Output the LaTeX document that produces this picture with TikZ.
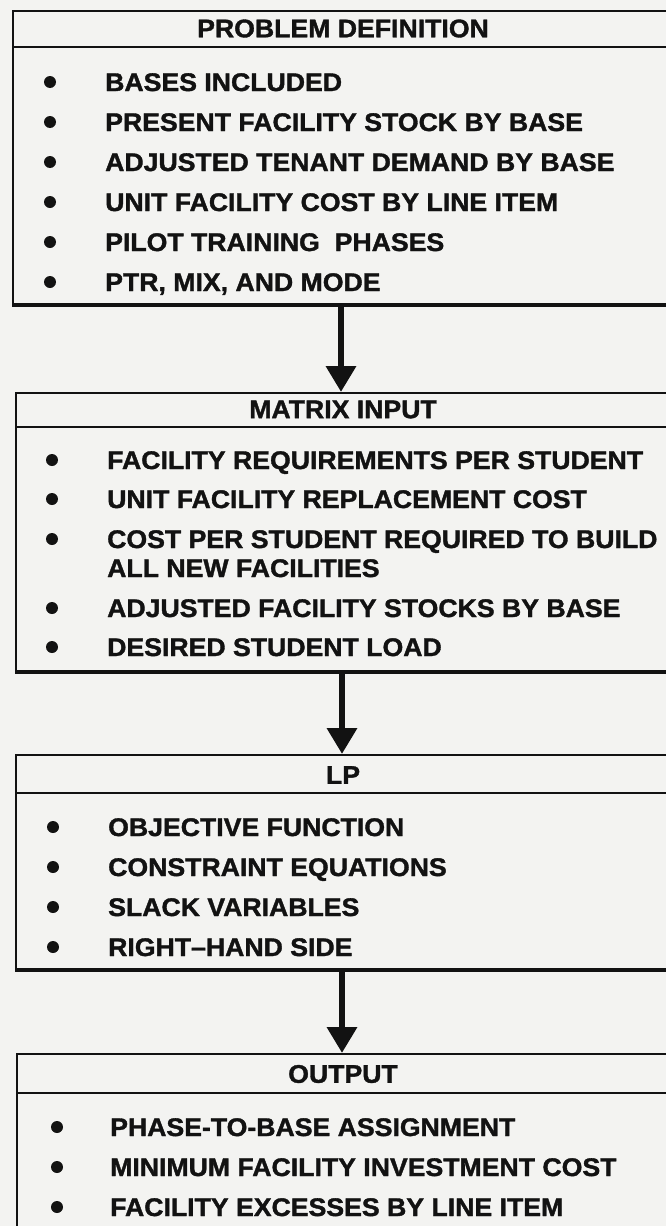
\documentclass[tikz,border=0pt]{standalone}
\usepackage{fontspec}
\setmainfont{Liberation Sans}[FakeStretch=1.045,BoldFeatures={FakeBold=1.4}]
\usetikzlibrary{arrows.meta}
\definecolor{paper}{RGB}{243,243,241}
\definecolor{ink}{RGB}{18,18,18}
\begin{document}
\begin{tikzpicture}[x=1pt,y=-1pt,
  box/.style={draw=ink,line width=2pt,anchor=north west,inner sep=0pt},
  head/.style={font=\bfseries\fontsize{25.5}{28}\selectfont,text=ink,inner sep=0pt},
  item/.style={anchor=base west,font=\bfseries\fontsize{25.5}{28}\selectfont,text=ink,inner sep=0pt},
  dot/.style={circle,fill=ink,minimum size=12pt,inner sep=0pt},
  sep/.style={draw=ink,line width=2pt},
  base/.style={draw=ink,line width=4pt},
  flow/.style={draw=ink,line width=6.5pt,-{Triangle[width=29pt 0 0,length=26pt 0 0]}}]
\useasboundingbox[fill=paper] (0,0) rectangle (666,1226);

% ---------- Box 1
\node[box,minimum width=656pt,minimum height=293pt] (b1) at (12,10) {};
\draw[sep] ([yshift=-37pt]b1.north west) -- ([yshift=-37pt]b1.north east);
\draw[base] (b1.south west) -- (b1.south east);
\node[head] (h1) at (343,28.5) {PROBLEM DEFINITION};
\node[dot] (d11) at (50,82) {};  \node[item] (i11) at (105,91) {BASES INCLUDED};
\node[dot] (d12) at (50,122) {}; \node[item] (i12) at (105,131) {PRESENT FACILITY STOCK BY BASE};
\node[dot] (d13) at (50,162) {}; \node[item] (i13) at (105,171) {ADJUSTED TENANT DEMAND BY BASE};
\node[dot] (d14) at (50,202) {}; \node[item] (i14) at (105,211) {UNIT FACILITY COST BY LINE ITEM};
\node[dot] (d15) at (50,242) {}; \node[item] (i15) at (105,251) {PILOT TRAINING\ \ PHASES};
\node[dot] (d16) at (50,282) {}; \node[item] (i16) at (105,291) {PTR, MIX, AND MODE};

% ---------- Box 2
\node[box,minimum width=652pt,minimum height=278pt] (b2) at (15,392) {};
\draw[sep] ([yshift=-35pt]b2.north west) -- ([yshift=-35pt]b2.north east);
\draw[base] (b2.south west) -- (b2.south east);
\node[head] (h2) at (343,409.5) {MATRIX INPUT};
\node[dot] (d21) at (52,460) {}; \node[item] (i21) at (107,469) {FACILITY REQUIREMENTS PER STUDENT};
\node[dot] (d22) at (52,499) {}; \node[item] (i22) at (107,508) {UNIT FACILITY REPLACEMENT COST};
\node[dot] (d23) at (52,539) {}; \node[item] (i23) at (107,548) {COST PER STUDENT REQUIRED TO BUILD};
\node[item] (i23b) at (107,577) {ALL NEW FACILITIES};
\node[dot] (d24) at (52,608) {}; \node[item] (i24) at (107,617) {ADJUSTED FACILITY STOCKS BY BASE};
\node[dot] (d25) at (52,647) {}; \node[item] (i25) at (107,656) {DESIRED STUDENT LOAD};

% ---------- Box 3
\node[box,minimum width=652pt,minimum height=214pt] (b3) at (15,754) {};
\draw[sep] ([yshift=-39pt]b3.north west) -- ([yshift=-39pt]b3.north east);
\draw[base] (b3.south west) -- (b3.south east);
\node[head] (h3) at (343,775) {LP};
\node[dot] (d31) at (53,827) {}; \node[item] (i31) at (108,836) {OBJECTIVE FUNCTION};
\node[dot] (d32) at (53,867) {}; \node[item] (i32) at (108,876) {CONSTRAINT EQUATIONS};
\node[dot] (d33) at (53,907) {}; \node[item] (i33) at (108,916) {SLACK VARIABLES};
\node[dot] (d34) at (53,947) {}; \node[item] (i34) at (108,956) {RIGHT--HAND SIDE};

% ---------- Box 4
\node[box,minimum width=652pt,minimum height=200pt] (b4) at (16,1053) {};
\draw[sep] ([yshift=-40pt]b4.north west) -- ([yshift=-40pt]b4.north east);
\node[head] (h4) at (343,1074) {OUTPUT};
\node[dot] (d41) at (57,1127) {}; \node[item] (i41) at (110,1136) {PHASE-TO-BASE ASSIGNMENT};
\node[dot] (d42) at (57,1167) {}; \node[item] (i42) at (110,1176) {MINIMUM FACILITY INVESTMENT COST};
\node[dot] (d43) at (57,1207) {}; \node[item] (i43) at (110,1216) {FACILITY EXCESSES BY LINE ITEM};

% ---------- Connectors
\draw[flow] (b1.south) -- (b1.south |- b2.north);
\draw[flow] (b2.south) -- (b2.south |- b3.north);
\draw[flow] (b3.south) -- (b3.south |- b4.north);
\end{tikzpicture}
\end{document}
